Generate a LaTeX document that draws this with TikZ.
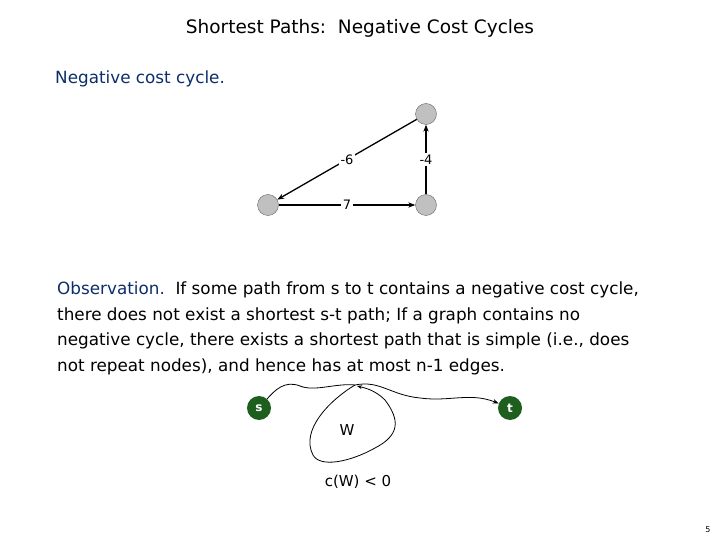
\documentclass[tikz,border=0pt]{standalone}
\usepackage{fontspec}
\setmainfont{DejaVu Sans}
\usetikzlibrary{arrows.meta}
\definecolor{navy}{HTML}{0B2E6B}
\definecolor{dgreen}{HTML}{1E5E1E}
\definecolor{ngray}{HTML}{C0C0C0}
\begin{document}
\begin{tikzpicture}[x=1pt,y=-1pt,
  gnode/.style={circle,draw=black!60,fill=ngray,minimum size=21pt,inner sep=0pt},
  snode/.style={circle,fill=dgreen,minimum size=24pt,inner sep=0pt,text=white,font=\fontsize{12}{12}\selectfont\bfseries},
  edge/.style={line width=1.3pt,-{Stealth[length=7pt]}},
  lab/.style={fill=white,inner sep=1.5pt,font=\fontsize{13}{13}\selectfont},
  txt/.style={anchor=west,inner sep=0pt,font=\fontsize{16.8}{20}\selectfont}]
\useasboundingbox (0,0) rectangle (720,540);
\node[font=\fontsize{18.5}{20}\selectfont] (title) at (360,28) {Shortest Paths:\ \ Negative Cost Cycles};
\node[txt,text=navy] (neg) at (55,79) {Negative cost cycle.};
\node[gnode] (a) at (268,205) {};
\node[gnode] (b) at (426,114) {};
\node[gnode] (c) at (426,205) {};
\draw[edge] (b) -- node[lab]{-6} (a);
\draw[edge] (a) -- node[lab]{7} (c);
\draw[edge] (c) -- node[lab]{-4} (b);
\node[txt] (l1) at (57,290) {\textcolor{navy}{Observation.}\ \ If some path from s to t contains a negative cost cycle,};
\node[txt] (l2) at (57,316) {there does not exist a shortest s-t path; If a graph contains no};
\node[txt] (l3) at (57,341) {negative cycle, there exists a shortest path that is simple (i.e., does};
\node[txt] (l4) at (57,367) {not repeat nodes), and hence has at most n-1 edges.};
\node[snode] (s) at (259,408) {s};
\node[snode] (t) at (510,408) {t};
\coordinate (apex) at (355,385);
\draw[thick] (s) .. controls (275,390) and (285,380) .. (300,386) .. controls (315,392) and (335,383) .. (apex);
\draw[thick,-{Stealth[length=6pt]}] (apex) .. controls (380,380) and (390,395) .. (420,398) .. controls (450,402) and (470,392) .. (t);
\draw[thick,-{Stealth[length=5pt]}] (apex) .. controls (330,400) and (300,430) .. (313,455)
  .. controls (320,468) and (350,462) .. (375,448) .. controls (400,435) and (400,420) .. (385,400)
  .. controls (375,390) and (365,388) .. (357,386);
\node[font=\fontsize{15}{15}\selectfont] (w) at (347,430) {W};
\node[font=\fontsize{15}{15}\selectfont] (cw) at (358,482) {c(W) < 0};
\node[font=\fontsize{8}{8}\selectfont] (pg) at (708,530) {5};
\end{tikzpicture}
\end{document}
